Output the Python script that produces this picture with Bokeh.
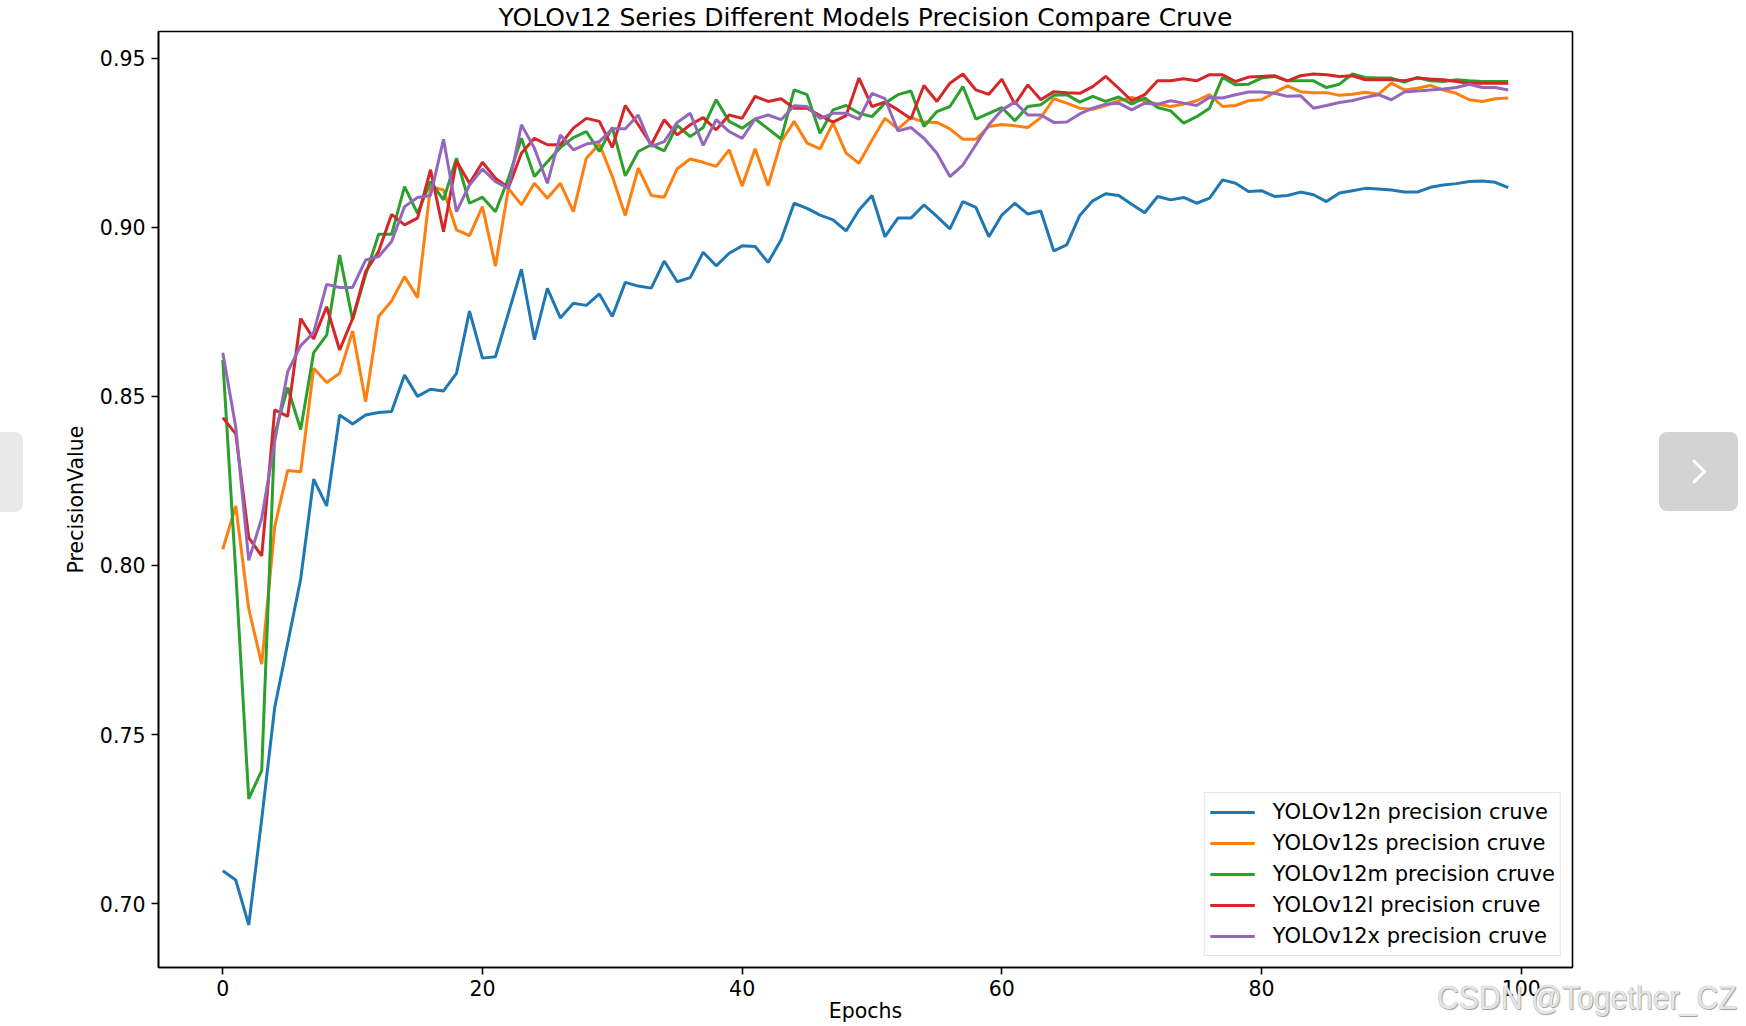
from bokeh.plotting import figure
from bokeh.layouts import column
from bokeh.models import Range1d, FixedTicker, PrintfTickFormatter, Legend, LegendItem, Div
from bokeh.embed import file_html
from bokeh.resources import INLINE

epochs = list(range(100))

yolov12n = [0.7097, 0.7070, 0.6937, 0.7250, 0.7580, 0.7770, 0.7960, 0.8255, 0.8176, 0.8445,
            0.8418, 0.8445, 0.8452, 0.8455, 0.8563, 0.8500, 0.8521, 0.8516, 0.8568, 0.8752,
            0.8613, 0.8617, 0.8746, 0.8876, 0.8668, 0.8819, 0.8732, 0.8775, 0.8769, 0.8803,
            0.8736, 0.8837, 0.8826, 0.8820, 0.8900, 0.8839, 0.8851, 0.8926, 0.8886, 0.8923,
            0.8945, 0.8943, 0.8896, 0.8963, 0.9071, 0.9056, 0.9036, 0.9022, 0.8989, 0.9051,
            0.9094, 0.8972, 0.9027, 0.9027, 0.9066, 0.9032, 0.8995, 0.9076, 0.9059, 0.8972,
            0.9036, 0.9071, 0.9039, 0.9048, 0.8930, 0.8948, 0.9035, 0.9078, 0.9099, 0.9094,
            0.9068, 0.9043, 0.9091, 0.9081, 0.9088, 0.9071, 0.9086, 0.9140, 0.9130, 0.9106,
            0.9108, 0.9091, 0.9094, 0.9104, 0.9096, 0.9076, 0.9101, 0.9108, 0.9115, 0.9113,
            0.9110, 0.9104, 0.9104, 0.9118, 0.9125, 0.9129, 0.9135, 0.9137, 0.9133, 0.9117]

yolov12s = [0.8048, 0.8176, 0.7872, 0.7708, 0.8115, 0.8281, 0.8277, 0.8583, 0.8541, 0.8568,
            0.8693, 0.8484, 0.8736, 0.8782, 0.8854, 0.8792, 0.9120, 0.9110, 0.8992, 0.8975,
            0.9061, 0.8885, 0.9115, 0.9066, 0.9130, 0.9086, 0.9130, 0.9046, 0.9204, 0.9246,
            0.9150, 0.9035, 0.9175, 0.9094, 0.9089, 0.9173, 0.9202, 0.9192, 0.9180, 0.9229,
            0.9122, 0.9232, 0.9123, 0.9253, 0.9313, 0.9249, 0.9232, 0.9308, 0.9219, 0.9189,
            0.9258, 0.9322, 0.9291, 0.9324, 0.9311, 0.9310, 0.9291, 0.9260, 0.9260, 0.9298,
            0.9304, 0.9300, 0.9295, 0.9324, 0.9380, 0.9367, 0.9352, 0.9349, 0.9360, 0.9374,
            0.9384, 0.9374, 0.9364, 0.9357, 0.9364, 0.9374, 0.9392, 0.9357, 0.9360, 0.9374,
            0.9377, 0.9398, 0.9418, 0.9401, 0.9398, 0.9398, 0.9390, 0.9393, 0.9399, 0.9393,
            0.9426, 0.9406, 0.9411, 0.9419, 0.9406, 0.9396, 0.9377, 0.9372, 0.9380, 0.9382]

yolov12m = [0.8608, 0.7980, 0.7310, 0.7394, 0.8389, 0.8526, 0.8402, 0.8629, 0.8681, 0.8918,
            0.8726, 0.8859, 0.8979, 0.8979, 0.9120, 0.9041, 0.9135, 0.9081, 0.9204, 0.9071,
            0.9089, 0.9046, 0.9145, 0.9263, 0.9150, 0.9194, 0.9236, 0.9265, 0.9283, 0.9224,
            0.9295, 0.9152, 0.9224, 0.9244, 0.9226, 0.9301, 0.9268, 0.9295, 0.9377, 0.9313,
            0.9293, 0.9320, 0.9291, 0.9261, 0.9406, 0.9392, 0.9278, 0.9347, 0.9360, 0.9337,
            0.9327, 0.9367, 0.9392, 0.9403, 0.9298, 0.9342, 0.9357, 0.9416, 0.9320, 0.9337,
            0.9354, 0.9315, 0.9357, 0.9362, 0.9390, 0.9392, 0.9370, 0.9387, 0.9372, 0.9385,
            0.9365, 0.9382, 0.9354, 0.9344, 0.9308, 0.9327, 0.9352, 0.9443, 0.9421, 0.9423,
            0.9441, 0.9446, 0.9433, 0.9433, 0.9433, 0.9413, 0.9423, 0.9453, 0.9443, 0.9441,
            0.9441, 0.9429, 0.9443, 0.9433, 0.9431, 0.9436, 0.9433, 0.9431, 0.9431, 0.9431]

yolov12l = [0.8437, 0.8389, 0.8082, 0.8028, 0.8460, 0.8441, 0.8730, 0.8670, 0.8765, 0.8637,
            0.8730, 0.8869, 0.8928, 0.9038, 0.9007, 0.9027, 0.9170, 0.8987, 0.9196, 0.9130,
            0.9192, 0.9145, 0.9117, 0.9219, 0.9263, 0.9244, 0.9244, 0.9293, 0.9322, 0.9313,
            0.9236, 0.9360, 0.9303, 0.9244, 0.9318, 0.9273, 0.9303, 0.9324, 0.9288, 0.9332,
            0.9322, 0.9387, 0.9372, 0.9380, 0.9352, 0.9352, 0.9330, 0.9311, 0.9330, 0.9441,
            0.9357, 0.9370, 0.9347, 0.9321, 0.9419, 0.9372, 0.9426, 0.9453, 0.9406, 0.9393,
            0.9438, 0.9364, 0.9421, 0.9377, 0.9401, 0.9398, 0.9396, 0.9416, 0.9446, 0.9411,
            0.9374, 0.9392, 0.9433, 0.9433, 0.9439, 0.9433, 0.9451, 0.9451, 0.9431, 0.9444,
            0.9446, 0.9448, 0.9433, 0.9448, 0.9453, 0.9451, 0.9446, 0.9448, 0.9436, 0.9436,
            0.9436, 0.9433, 0.9441, 0.9438, 0.9436, 0.9431, 0.9426, 0.9426, 0.9426, 0.9426]

yolov12x = [0.8629, 0.8409, 0.8015, 0.8140, 0.8367, 0.8573, 0.8650, 0.8689, 0.8831, 0.8822,
            0.8822, 0.8903, 0.8913, 0.8958, 0.9061, 0.9088, 0.9094, 0.9260, 0.9046, 0.9125,
            0.9172, 0.9135, 0.9115, 0.9303, 0.9234, 0.9130, 0.9273, 0.9229, 0.9246, 0.9253,
            0.9291, 0.9291, 0.9332, 0.9239, 0.9253, 0.9310, 0.9337, 0.9242, 0.9318, 0.9283,
            0.9263, 0.9320, 0.9332, 0.9318, 0.9359, 0.9357, 0.9322, 0.9337, 0.9337, 0.9320,
            0.9396, 0.9380, 0.9285, 0.9295, 0.9263, 0.9219, 0.9150, 0.9184, 0.9244, 0.9303,
            0.9347, 0.9370, 0.9332, 0.9332, 0.9310, 0.9311, 0.9335, 0.9352, 0.9364, 0.9367,
            0.9347, 0.9367, 0.9364, 0.9374, 0.9367, 0.9360, 0.9384, 0.9382, 0.9392, 0.9400,
            0.9400, 0.9396, 0.9387, 0.9389, 0.9352, 0.9360, 0.9369, 0.9375, 0.9384, 0.9392,
            0.9377, 0.9400, 0.9403, 0.9406, 0.9409, 0.9413, 0.9423, 0.9413, 0.9413, 0.9406]

series_names = ["YOLOv12n precision cruve", "YOLOv12s precision cruve", "YOLOv12m precision cruve",
                "YOLOv12l precision cruve", "YOLOv12x precision cruve"]
series_values = [yolov12n, yolov12s, yolov12m, yolov12l, yolov12x]
series_colors = ["#1f77b4", "#ff7f0e", "#2ca02c", "#d62728", "#9467bd"]

x_ticks = [0, 20, 40, 60, 80, 100]
y_ticks = [0.70, 0.75, 0.80, 0.85, 0.90, 0.95]

title_text = "YOLOv12 Series Different Models Precision Compare Cruve"
x_label = "Epochs"
y_label = "PrecisionValue"
watermark = "CSDN @Together_CZ"

# ---- layout -------------------------------------------------------------
W, H = 1746, 1026
BL, BR, BT, BB = 158, 174, 31, 59
FONT = "DejaVu Sans"
FS = "20.5px"

# matplotlib-like auto ranges (5% margins)
xmin, xmax = min(epochs), max(epochs)
allv = [v for s in series_values for v in s]
ymin, ymax = min(allv), max(allv)
xpad = (xmax - xmin) * 0.05
ypad = (ymax - ymin) * 0.05
x0, x1 = xmin - xpad, xmax + xpad
y0, y1 = ymin - ypad, ymax + ypad

p = figure(width=W, height=H, output_backend="svg", toolbar_location=None,
           x_range=Range1d(x0, x1), y_range=Range1d(y0, y1),
           min_border_left=BL, min_border_right=BR, min_border_top=BT, min_border_bottom=BB)
p.background_fill_color = "white"
p.border_fill_color = "white"
p.outline_line_color = "black"
p.outline_line_width = 1.6
p.xgrid.visible = False
p.ygrid.visible = False

p.title.text = title_text
p.title.align = "center"
p.title.text_font = FONT
p.title.text_font_size = "25px"
p.title.text_font_style = "normal"
p.title.text_color = "black"
p.title.standoff = 0
p.title.text_line_height = 1.0

for ax in (p.xaxis[0], p.yaxis[0]):
    ax.axis_line_color = "black"
    ax.axis_line_width = 1.6
    ax.major_tick_line_color = "black"
    ax.major_tick_line_width = 1.6
    ax.major_tick_out = 7
    ax.major_tick_in = 0
    ax.minor_tick_out = 0
    ax.minor_tick_in = 0
    ax.major_label_text_font = FONT
    ax.major_label_text_font_size = FS
    ax.major_label_text_color = "black"
    ax.major_label_text_line_height = 1.0
    ax.major_label_standoff = 6
    ax.axis_label_text_font = FONT
    ax.axis_label_text_font_size = FS
    ax.axis_label_text_font_style = "normal"
    ax.axis_label_text_color = "black"
    ax.axis_label_text_line_height = 1.0

p.xaxis.ticker = FixedTicker(ticks=x_ticks, minor_ticks=[])
p.yaxis.ticker = FixedTicker(ticks=y_ticks, minor_ticks=[])
p.yaxis.formatter = PrintfTickFormatter(format="%.2f")
p.yaxis.axis_label = y_label
p.yaxis.axis_label_standoff = 9
p.xaxis.axis_label = x_label
p.xaxis.axis_label_standoff = 0
p.xaxis.major_label_standoff = 5

items = []
for name, vals, col in zip(series_names, series_values, series_colors):
    r = p.line(epochs, vals, line_color=col, line_width=3)
    items.append(LegendItem(label=name, renderers=[r]))

legend = Legend(items=items, location="bottom_right", margin=11,
                padding=5, spacing=3, label_height=28, glyph_height=28, glyph_width=45,
                label_standoff=18, label_text_font=FONT, label_text_font_size="21px",
                label_text_color="black", border_line_color="#cccccc", border_line_width=1.5,
                background_fill_color="white", background_fill_alpha=0.85)
p.add_layout(legend)

# ---- screenshot artefacts (image-viewer buttons, site watermark) ---------
overlay_html = f"""
<div style="position:relative;width:{W}px;height:{H}px;overflow:hidden;pointer-events:none;">
  <div style="position:absolute;left:-56px;top:432px;width:79px;height:80px;
              background:#e9e9e9;border-radius:8px;"></div>
  <div style="position:absolute;left:1659px;top:432px;width:79px;height:79px;
              background:#d3d3d3;border-radius:8px;">
    <svg width="79" height="79" style="display:block">
      <polyline points="35,29 45.5,39.5 35,50" fill="none" stroke="white"
                stroke-width="3" stroke-linecap="round" stroke-linejoin="round"/>
    </svg>
  </div>
  <div style="position:absolute;left:1437px;top:980px;font-family:'Liberation Sans',Arial,sans-serif;
              font-size:34px;line-height:1;white-space:nowrap;color:rgba(255,255,255,0.8);
              text-shadow:0 0 1px #8a8a8a, 1px 1px 1px #a0a0a0;
              transform:scaleX(0.89);transform-origin:0 0;">{watermark}</div>
</div>
"""
overlay = Div(text=overlay_html, width=W, height=H, margin=(-H, 0, 0, 0))

layout = column(p, overlay, spacing=0)
open("out.html", "w").write(file_html(layout, INLINE))
